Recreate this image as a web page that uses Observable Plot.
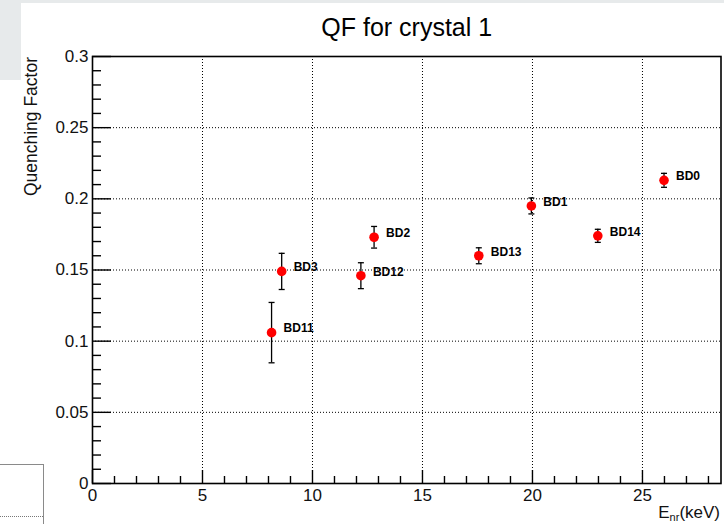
<!DOCTYPE html>
<html><head><meta charset="utf-8">
<script src="https://cdn.jsdelivr.net/npm/d3@7"></script>
<script src="https://cdn.jsdelivr.net/npm/@observablehq/plot@0.6"></script>
<style>
body{margin:0;background:#fff;}
#wrap{position:relative;width:724px;height:524px;overflow:hidden;font-family:"Liberation Sans",Arial,sans-serif;}
.art{position:absolute;box-sizing:border-box;}
</style></head><body><div id="wrap"></div>
<script>
// ---- data ----
const labels = ["BD11", "BD3", "BD12", "BD2", "BD13", "BD1", "BD14", "BD0"];
const energy = [8.14, 8.6, 12.2, 12.8, 17.56, 19.95, 22.97, 25.98];
const qf = [0.106, 0.149, 0.146, 0.173, 0.160, 0.195, 0.174, 0.213];
const qfErr = [0.0212, 0.0127, 0.0091, 0.0076, 0.0056, 0.0056, 0.0046, 0.0049];
const xMajor = [0, 5, 10, 15, 20, 25];
const xTickLabels = ["0", "5", "10", "15", "20", "25"];
const yMajor = [0, 0.05, 0.1, 0.15, 0.2, 0.25, 0.3];
const yTickLabels = ["0", "0.05", "0.1", "0.15", "0.2", "0.25", "0.3"];
const xMinor = [1,2,3,4,6,7,8,9,11,12,13,14,16,17,18,19,21,22,23,24,26,27,28];
const yMinor = [0.01,0.02,0.03,0.04,0.06,0.07,0.08,0.09,0.11,0.12,0.13,0.14,0.16,0.17,0.18,0.19,0.21,0.22,0.23,0.24,0.26,0.27,0.28,0.29];
const title = "QF for crystal 1";
const yTitle = "Quenching Factor";

const rows = labels.map((l, i) => ({label: l, x: energy[i], y: qf[i], lo: qf[i] - qfErr[i], hi: qf[i] + qfErr[i]}));
const xLab = new Map(xMajor.map((v, i) => [v, xTickLabels[i]]));
const yLab = new Map(yMajor.map((v, i) => [v, yTickLabels[i]]));

const capSymbol = {draw(ctx, size) { const r = 3; ctx.moveTo(-r, 0); ctx.lineTo(r, 0); }};
const font = "Liberation Sans, Arial, sans-serif";

const chart = Plot.plot({
  width: 724, height: 524,
  marginLeft: 92, marginRight: 3.5, marginTop: 56, marginBottom: 41,
  style: {fontFamily: font, background: "transparent", overflow: "visible"},
  x: {domain: [0, 28.57], label: null, axis: null},
  y: {domain: [0, 0.3], label: null, axis: null},
  marks: [
    Plot.gridX(xMajor.filter(v => v > 0), {stroke: "#000", strokeOpacity: 1, strokeDasharray: "1,2", strokeWidth: 1}),
    Plot.gridY(yMajor.filter(v => v > 0 && v < 0.3), {stroke: "#000", strokeOpacity: 1, strokeDasharray: "1,2", strokeWidth: 1}),
    // x axis labels
    Plot.axisX({ticks: xMajor, tickSize: 0, tickPadding: 5, tickFormat: d => xLab.get(d), fontSize: 17, fill: "#111", label: null}),
    Plot.axisX({ticks: xMajor, tickSize: -13, fill: "none", stroke: "#000", strokeWidth: 1.4, label: null}),
    Plot.axisX({ticks: xMinor, tickSize: -7, fill: "none", stroke: "#000", strokeWidth: 1.4, label: null}),
    // y axis labels
    Plot.axisY({ticks: yMajor, tickSize: 0, tickPadding: 4, tickFormat: d => yLab.get(d), fontSize: 17, fill: "#111", label: null}),
    Plot.axisY({ticks: yMajor, tickSize: -19, fill: "none", stroke: "#000", strokeWidth: 1.4, label: null}),
    Plot.axisY({ticks: yMinor, tickSize: -9, fill: "none", stroke: "#000", strokeWidth: 1.4, label: null}),
    Plot.frame({stroke: "#000", strokeWidth: 1.6}),
    // error bars
    Plot.ruleX(rows, {x: "x", y1: "lo", y2: "hi", stroke: "#000", strokeWidth: 1.3}),
    Plot.dot(rows, {x: "x", y: "lo", symbol: capSymbol, stroke: "#000", strokeWidth: 1.3, r: 3}),
    Plot.dot(rows, {x: "x", y: "hi", symbol: capSymbol, stroke: "#000", strokeWidth: 1.3, r: 3}),
    Plot.dot(rows, {x: "x", y: "y", r: 4.8, fill: "#f00", stroke: null}),
    Plot.text(rows, {x: "x", y: "y", text: "label", dx: 12, dy: -4, textAnchor: "start", fontWeight: "bold", fontSize: 12, fill: "#000"}),
    Plot.text([title], {frameAnchor: "top", dy: -38, fontSize: 25, fill: "#000"})
  ]
});

const svg = d3.select(chart);
// y axis title (rotated, end-aligned at top of frame)
svg.append("text")
  .attr("transform", "translate(31,57) rotate(-90)")
  .attr("text-anchor", "end").attr("dy", "0.35em")
  .attr("font-size", 17.5).attr("fill", "#111").attr("font-family", font)
  .text(yTitle);
// x axis title with subscript
const xt = svg.append("text")
  .attr("x", 720).attr("y", 518).attr("text-anchor", "end")
  .attr("font-size", 17).attr("fill", "#111").attr("font-family", font);
xt.append("tspan").text("E");
xt.append("tspan").attr("font-size", 11).attr("dy", 3).text("nr");
xt.append("tspan").attr("dy", -3).text("(keV)");

const wrap = document.getElementById("wrap");
wrap.appendChild(chart);
chart.style.position = "absolute"; chart.style.left = "0"; chart.style.top = "0";

// screenshot edge artifacts
function box(css) { const d = document.createElement("div"); d.className = "art"; Object.assign(d.style, css); wrap.appendChild(d); }
box({left: "0", top: "0", width: "724px", height: "3px", background: "#e7eaeb"});
box({left: "0", top: "0", width: "21px", height: "80px", background: "#e7eaeb"});
box({left: "-1px", top: "464px", width: "45px", height: "70px", border: "1px solid #8a8a8a", background: "#fff"});
box({left: "0", top: "516px", width: "43px", height: "0", borderTop: "1px dotted #777"});
</script>
</body></html>
